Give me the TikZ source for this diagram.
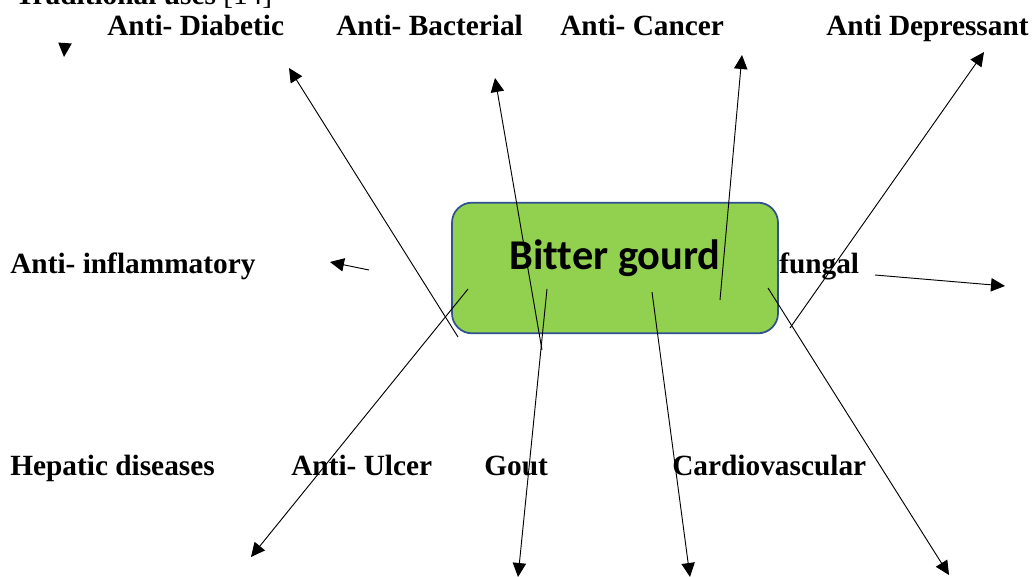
\documentclass[tikz,border=0pt]{standalone}
\usepackage{fontspec}
\setmainfont{Liberation Serif}
\newfontfamily\calibri[Ligatures=NoCommon]{Carlito}
\usetikzlibrary{arrows.meta}
\definecolor{gourdgreen}{HTML}{92D050}
\definecolor{gourdblue}{HTML}{2F528F}
\tikzset{
  usetext/.style={anchor=base west, inner sep=0pt, font=\fontsize{22}{26}\selectfont\bfseries},
  arr/.style={-{Triangle[length=10.5pt,width=10pt]}, line width=0.7pt},
}
\begin{document}
\begin{tikzpicture}[x=0.75pt,y=-0.75pt]
\useasboundingbox (0,0) rectangle (1032,577);
% central box
\node[draw=gourdblue, fill=gourdgreen, line width=1.3pt, rounded corners=15pt,
      minimum width=244.5pt, minimum height=98pt, inner sep=0pt] (gourd) at (615,268) {};
\node[anchor=base, inner sep=0pt, font=\calibri\fontsize{31.8}{36}\selectfont\bfseries] (gourdtext) at (615,270) {Bitter gourd};
% labels
\node[usetext] (title) at (15,5) {Traditional uses \mdseries[14]};
\node[usetext] (diabetic) at (107,36) {Anti- Diabetic};
\node[usetext] (bacterial) at (336,36) {Anti- Bacterial};
\node[usetext] (cancer) at (560,36) {Anti- Cancer};
\node[usetext] (depressant) at (826,36) {Anti Depressant};
\node[usetext] (inflam) at (10,274) {Anti- inflammatory};
\node[usetext] (fungal) at (779,274) {fungal};
\node[usetext] (hepatic) at (10,475) {Hepatic diseases};
\node[usetext] (ulcer) at (291,475) {Anti- Ulcer};
\node[usetext] (gout) at (484,475) {Gout};
\node[usetext] (cardio) at (672,475) {Cardiovascular};
% arrow ends
\coordinate (s1) at (458,337); \coordinate (t1) at (289,68);
\coordinate (s2) at (542,350); \coordinate (t2) at (495,78);
\coordinate (s3) at (720,300); \coordinate (t3) at (742,55);
\coordinate (s4) at (790,328); \coordinate (t4) at (984,52);
\coordinate (s5) at (369,270); \coordinate (t5) at (330,262);
\coordinate (s6) at (875,275); \coordinate (t6) at (1005,286);
\coordinate (s7) at (468,289); \coordinate (t7) at (251,557);
\coordinate (s8) at (547,289); \coordinate (t8) at (518,577);
\coordinate (s9) at (652,292); \coordinate (t9) at (690,577);
\coordinate (s10) at (768,288); \coordinate (t10) at (949,575);
\coordinate (s11) at (65,43); \coordinate (t11) at (64,57);
\foreach \i in {1,...,11}
  \draw[arr] (s\i) -- (t\i);
\end{tikzpicture}
\end{document}
